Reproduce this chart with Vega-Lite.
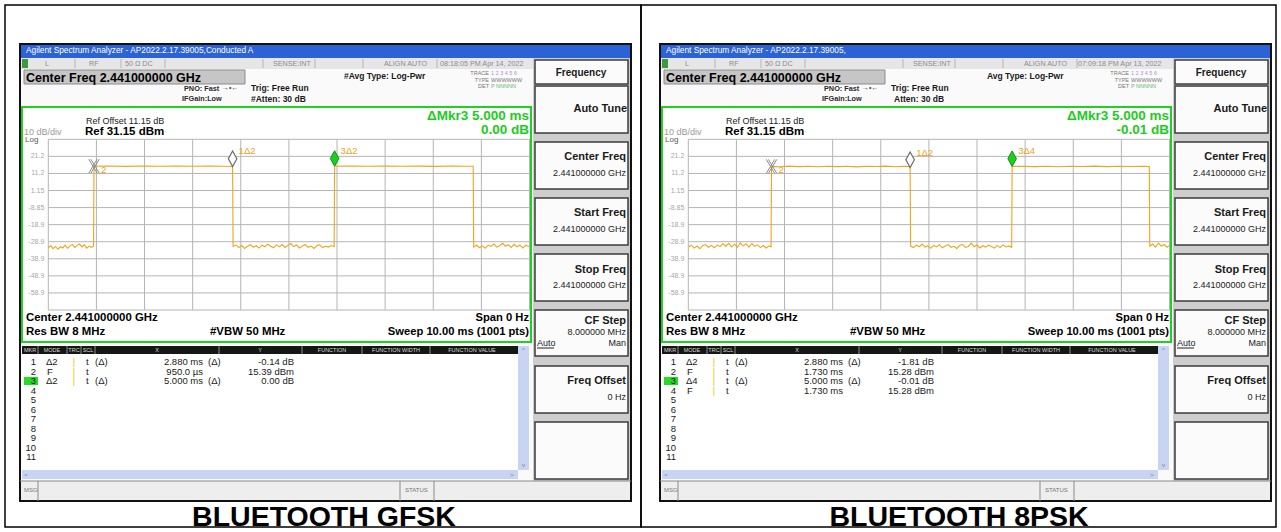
{
  "$schema": "https://vega.github.io/schema/vega-lite/v6.json",
  "padding": 0,
  "background": "#ffffff",
  "bounds": "flush",
  "spacing": 0,
  "data": {
    "values": [
      {"k": "rf", "p": ["a", "b"], "r": "scrbg", "x": 20, "x2": 631, "y": 44, "y2": 501},
      {"k": "rf", "p": ["a", "b"], "r": "titlebar", "x": 20, "x2": 631, "y": 44, "y2": 58},
      {"k": "rf", "p": ["a", "b"], "r": "statrow", "x": 20, "x2": 533, "y": 58, "y2": 69},
      {"k": "rf", "p": ["a", "b"], "r": "icon", "x": 22, "x2": 28, "y": 59, "y2": 68},
      {"k": "rf", "p": ["a", "b"], "r": "cfbox", "x": 24, "x2": 245, "y": 70, "y2": 84},
      {"k": "rf", "p": ["a", "b"], "r": "keycol", "x": 533, "x2": 631, "y": 58, "y2": 481},
      {"k": "rf", "p": ["a", "b"], "r": "key", "x": 535, "x2": 628, "y": 60, "y2": 84},
      {"k": "rf", "p": ["a", "b"], "r": "key", "x": 535, "x2": 628, "y": 86, "y2": 133},
      {"k": "rf", "p": ["a", "b"], "r": "key", "x": 535, "x2": 628, "y": 142, "y2": 189},
      {"k": "rf", "p": ["a", "b"], "r": "key", "x": 535, "x2": 628, "y": 198, "y2": 245},
      {"k": "rf", "p": ["a", "b"], "r": "key", "x": 535, "x2": 628, "y": 254, "y2": 301},
      {"k": "rf", "p": ["a", "b"], "r": "key", "x": 535, "x2": 628, "y": 310, "y2": 356},
      {"k": "rf", "p": ["a", "b"], "r": "key", "x": 535, "x2": 628, "y": 366, "y2": 413},
      {"k": "rf", "p": ["a", "b"], "r": "key", "x": 535, "x2": 628, "y": 422, "y2": 479},
      {"k": "rf", "p": ["a", "b"], "r": "white", "x": 22, "x2": 531, "y": 107, "y2": 342},
      {"k": "rf", "p": ["a", "b"], "r": "white", "x": 22, "x2": 518, "y": 345, "y2": 470},
      {"k": "rf", "p": ["a", "b"], "r": "tblhead", "x": 22, "x2": 518, "y": 346, "y2": 354},
      {"k": "rf", "p": ["a", "b"], "r": "scroll", "x": 518, "x2": 529, "y": 346, "y2": 470},
      {"k": "rf", "p": ["a", "b"], "r": "scroll", "x": 22, "x2": 518, "y": 470, "y2": 479},
      {"k": "rf", "p": ["a", "b"], "r": "statusbar", "x": 20, "x2": 631, "y": 481, "y2": 501},
      {"k": "rf", "p": ["a", "b"], "r": "hl", "x": 24, "x2": 38, "y": 377, "y2": 385},

      {"k": "ob", "p": ["a"], "r": "frame", "x": 5, "x2": 641, "y": 5, "y2": 527},
      {"k": "ob", "p": ["b"], "r": "frame", "x": 1, "x2": 636, "y": 5, "y2": 527},
      {"k": "ob", "p": ["a", "b"], "r": "scrframe", "x": 20, "x2": 631, "y": 44, "y2": 501},
      {"k": "ob", "p": ["a", "b"], "r": "green", "x": 22, "x2": 531, "y": 107, "y2": 342},
      {"k": "ob", "p": ["a", "b"], "r": "cfline", "x": 24, "x2": 245, "y": 70, "y2": 84},
      {"k": "ob", "p": ["a", "b"], "r": "keyline", "x": 535, "x2": 628, "y": 60, "y2": 84},
      {"k": "ob", "p": ["a", "b"], "r": "keyline", "x": 535, "x2": 628, "y": 86, "y2": 133},
      {"k": "ob", "p": ["a", "b"], "r": "keyline", "x": 535, "x2": 628, "y": 142, "y2": 189},
      {"k": "ob", "p": ["a", "b"], "r": "keyline", "x": 535, "x2": 628, "y": 198, "y2": 245},
      {"k": "ob", "p": ["a", "b"], "r": "keyline", "x": 535, "x2": 628, "y": 254, "y2": 301},
      {"k": "ob", "p": ["a", "b"], "r": "keyline", "x": 535, "x2": 628, "y": 310, "y2": 356},
      {"k": "ob", "p": ["a", "b"], "r": "keyline", "x": 535, "x2": 628, "y": 366, "y2": 413},
      {"k": "ob", "p": ["a", "b"], "r": "keyline", "x": 535, "x2": 628, "y": 422, "y2": 479},

      {"k": "ln", "p": ["a", "b"], "r": "wsep", "x": 38, "x2": 38, "y": 346, "y2": 354},
      {"k": "ln", "p": ["a", "b"], "r": "wsep", "x": 67, "x2": 67, "y": 346, "y2": 354},
      {"k": "ln", "p": ["a", "b"], "r": "wsep", "x": 81, "x2": 81, "y": 346, "y2": 354},
      {"k": "ln", "p": ["a", "b"], "r": "wsep", "x": 95, "x2": 95, "y": 346, "y2": 354},
      {"k": "ln", "p": ["a", "b"], "r": "wsep", "x": 219, "x2": 219, "y": 346, "y2": 354},
      {"k": "ln", "p": ["a", "b"], "r": "wsep", "x": 302, "x2": 302, "y": 346, "y2": 354},
      {"k": "ln", "p": ["a", "b"], "r": "wsep", "x": 362, "x2": 362, "y": 346, "y2": 354},
      {"k": "ln", "p": ["a", "b"], "r": "wsep", "x": 430, "x2": 430, "y": 346, "y2": 354},
      {"k": "ln", "p": ["a", "b"], "r": "sepl", "x": 75, "x2": 75, "y": 59, "y2": 68},
      {"k": "ln", "p": ["a", "b"], "r": "sepl", "x": 121, "x2": 121, "y": 59, "y2": 68},
      {"k": "ln", "p": ["a", "b"], "r": "sepl", "x": 165, "x2": 165, "y": 59, "y2": 68},
      {"k": "ln", "p": ["a", "b"], "r": "sepl", "x": 263, "x2": 263, "y": 59, "y2": 68},
      {"k": "ln", "p": ["a", "b"], "r": "sepl", "x": 315, "x2": 315, "y": 59, "y2": 68},
      {"k": "ln", "p": ["a", "b"], "r": "sepl", "x": 363, "x2": 363, "y": 59, "y2": 68},
      {"k": "ln", "p": ["a", "b"], "r": "sepl", "x": 437, "x2": 437, "y": 59, "y2": 68},
      {"k": "ln", "p": ["a", "b"], "r": "sep", "x": 20, "x2": 631, "y": 481, "y2": 481},
      {"k": "ln", "p": ["a", "b"], "r": "sep", "x": 38, "x2": 38, "y": 481, "y2": 501},
      {"k": "ln", "p": ["a", "b"], "r": "sep", "x": 400, "x2": 400, "y": 481, "y2": 501},
      {"k": "ln", "p": ["a", "b"], "r": "sep", "x": 434, "x2": 434, "y": 481, "y2": 501},
      {"k": "ln", "p": ["a", "b"], "r": "uline", "x": 537, "x2": 554, "y": 348, "y2": 348},

      {"k": "tx", "p": ["a"], "r": "title", "x": 26, "y": 51, "s": "Agilent Spectrum Analyzer - AP2022.2.17.39005,Conducted A"},
      {"k": "tx", "p": ["b"], "r": "title", "x": 26, "y": 51, "s": "Agilent Spectrum Analyzer - AP2022.2.17.39005,"},
      {"k": "tx", "p": ["a", "b"], "r": "stat", "x": 45, "y": 64, "s": "L"},
      {"k": "tx", "p": ["a", "b"], "r": "stat", "x": 89, "y": 64, "s": "RF"},
      {"k": "tx", "p": ["a", "b"], "r": "stat", "x": 125, "y": 64, "s": "50 Ω   DC"},
      {"k": "tx", "p": ["a", "b"], "r": "stat", "x": 273, "y": 64, "s": "SENSE:INT"},
      {"k": "tx", "p": ["a", "b"], "r": "stat", "x": 384, "y": 64, "s": "ALIGN AUTO"},
      {"k": "tx", "p": ["a"], "r": "stat", "x": 440, "y": 64, "s": "08:18:05 PM Apr 14, 2022"},
      {"k": "tx", "p": ["b"], "r": "stat", "x": 438, "y": 64, "s": "07:09:18 PM Apr 13, 2022"},
      {"k": "tx", "p": ["a", "b"], "r": "cf", "x": 26, "y": 77.5, "s": "Center Freq 2.441000000 GHz"},
      {"k": "tx", "p": ["a", "b"], "r": "hdrs", "x": 184, "y": 88.5, "s": "PNO: Fast"},
      {"k": "tx", "p": ["a", "b"], "r": "arrow", "x": 222, "y": 88, "s": "→•←"},
      {"k": "tx", "p": ["a", "b"], "r": "hdrs", "x": 182, "y": 98.5, "s": "IFGain:Low"},
      {"k": "tx", "p": ["a", "b"], "r": "hdr", "x": 251, "y": 87.5, "s": "Trig: Free Run"},
      {"k": "tx", "p": ["a"], "r": "hdr", "x": 251, "y": 98.5, "s": "#Atten: 30 dB"},
      {"k": "tx", "p": ["b"], "r": "hdr", "x": 254, "y": 98.5, "s": "Atten: 30 dB"},
      {"k": "tx", "p": ["a"], "r": "hdr", "x": 344, "y": 75.5, "s": "#Avg Type: Log-Pwr"},
      {"k": "tx", "p": ["b"], "r": "hdr", "x": 347, "y": 75.5, "s": "Avg Type: Log-Pwr"},
      {"k": "tx", "p": ["a", "b"], "r": "tiny", "x": 489, "y": 73, "s": "TRACE"},
      {"k": "tx", "p": ["a", "b"], "r": "tiny", "x": 489, "y": 79.5, "s": "TYPE"},
      {"k": "tx", "p": ["a", "b"], "r": "tiny", "x": 489, "y": 86, "s": "DET"},
      {"k": "tx", "p": ["a", "b"], "r": "trc", "x": 491, "y": 73, "s": "1 2 3 4 5 6"},
      {"k": "tx", "p": ["a", "b"], "r": "tinyL", "x": 491, "y": 79.5, "s": "WWWWWW"},
      {"k": "tx", "p": ["a", "b"], "r": "det", "x": 491, "y": 86, "s": "P NNNNN"},
      {"k": "tx", "p": ["a", "b"], "r": "ref", "x": 86, "y": 120.5, "s": "Ref Offset 11.15 dB"},
      {"k": "tx", "p": ["a", "b"], "r": "refbig", "x": 85, "y": 131.5, "s": "Ref 31.15 dBm"},
      {"k": "tx", "p": ["a", "b"], "r": "div", "x": 24, "y": 131.5, "s": "10 dB/div"},
      {"k": "tx", "p": ["a", "b"], "r": "log", "x": 25, "y": 140, "s": "Log"},
      {"k": "tx", "p": ["a", "b"], "r": "mkr", "x": 529, "y": 116, "s": "ΔMkr3 5.000 ms"},
      {"k": "tx", "p": ["a"], "r": "mkr", "x": 529, "y": 129.5, "s": "0.00 dB"},
      {"k": "tx", "p": ["b"], "r": "mkr", "x": 529, "y": 129.5, "s": "-0.01 dB"},
      {"k": "tx", "p": ["a", "b"], "r": "foot", "x": 26, "y": 318, "s": "Center 2.441000000 GHz"},
      {"k": "tx", "p": ["a", "b"], "r": "foot", "x": 26, "y": 332, "s": "Res BW 8 MHz"},
      {"k": "tx", "p": ["a", "b"], "r": "foot", "x": 210, "y": 332, "s": "#VBW 50 MHz"},
      {"k": "tx", "p": ["a", "b"], "r": "footR", "x": 529, "y": 318, "s": "Span 0 Hz"},
      {"k": "tx", "p": ["a", "b"], "r": "footR", "x": 529, "y": 332, "s": "Sweep  10.00 ms (1001 pts)"},
      {"k": "tx", "p": ["a", "b"], "r": "keyc", "x": 581, "y": 72.5, "s": "Frequency"},
      {"k": "tx", "p": ["a", "b"], "r": "keyT", "x": 627, "y": 109, "s": "Auto Tune"},
      {"k": "tx", "p": ["a", "b"], "r": "keyT", "x": 626, "y": 157, "s": "Center Freq"},
      {"k": "tx", "p": ["a", "b"], "r": "keyT", "x": 626, "y": 213, "s": "Start Freq"},
      {"k": "tx", "p": ["a", "b"], "r": "keyT", "x": 626, "y": 269.5, "s": "Stop Freq"},
      {"k": "tx", "p": ["a", "b"], "r": "keyT", "x": 626, "y": 321, "s": "CF Step"},
      {"k": "tx", "p": ["a", "b"], "r": "keyT", "x": 626, "y": 381, "s": "Freq Offset"},
      {"k": "tx", "p": ["a", "b"], "r": "keysub", "x": 626, "y": 173, "s": "2.441000000 GHz"},
      {"k": "tx", "p": ["a", "b"], "r": "keysub", "x": 626, "y": 229, "s": "2.441000000 GHz"},
      {"k": "tx", "p": ["a", "b"], "r": "keysub", "x": 626, "y": 285, "s": "2.441000000 GHz"},
      {"k": "tx", "p": ["a", "b"], "r": "keysub", "x": 626, "y": 332, "s": "8.000000 MHz"},
      {"k": "tx", "p": ["a", "b"], "r": "keysub", "x": 626, "y": 343, "s": "Man"},
      {"k": "tx", "p": ["a", "b"], "r": "keysub", "x": 626, "y": 397, "s": "0 Hz"},
      {"k": "tx", "p": ["a", "b"], "r": "auto", "x": 537, "y": 343, "s": "Auto"},
      {"k": "tx", "p": ["a", "b"], "r": "tblh", "x": 30, "y": 350, "s": "MKR"},
      {"k": "tx", "p": ["a", "b"], "r": "tblh", "x": 52, "y": 350, "s": "MODE"},
      {"k": "tx", "p": ["a", "b"], "r": "tblh", "x": 74, "y": 350, "s": "TRC"},
      {"k": "tx", "p": ["a", "b"], "r": "tblh", "x": 88, "y": 350, "s": "SCL"},
      {"k": "tx", "p": ["a", "b"], "r": "tblh", "x": 157, "y": 350, "s": "X"},
      {"k": "tx", "p": ["a", "b"], "r": "tblh", "x": 260, "y": 350, "s": "Y"},
      {"k": "tx", "p": ["a", "b"], "r": "tblh", "x": 332, "y": 350, "s": "FUNCTION"},
      {"k": "tx", "p": ["a", "b"], "r": "tblh", "x": 396, "y": 350, "s": "FUNCTION WIDTH"},
      {"k": "tx", "p": ["a", "b"], "r": "tblh", "x": 472, "y": 350, "s": "FUNCTION VALUE"},
      {"k": "tx", "p": ["a", "b"], "r": "scrarrow", "x": 523.5, "y": 350, "s": "^"},
      {"k": "tx", "p": ["a", "b"], "r": "scrarrow", "x": 523.5, "y": 465, "s": "v"},
      {"k": "tx", "p": ["a", "b"], "r": "scrarrow", "x": 26, "y": 474.5, "s": "<"},
      {"k": "tx", "p": ["a", "b"], "r": "scrarrow", "x": 512, "y": 474.5, "s": ">"},
      {"k": "tx", "p": ["a", "b"], "r": "tblR", "x": 36, "y": 362, "s": "1"},
      {"k": "tx", "p": ["a", "b"], "r": "tblR", "x": 36, "y": 371.5, "s": "2"},
      {"k": "tx", "p": ["a", "b"], "r": "tblR", "x": 36, "y": 381, "s": "3"},
      {"k": "tx", "p": ["a", "b"], "r": "tblR", "x": 36, "y": 390.5, "s": "4"},
      {"k": "tx", "p": ["a", "b"], "r": "tblR", "x": 36, "y": 400, "s": "5"},
      {"k": "tx", "p": ["a", "b"], "r": "tblR", "x": 36, "y": 409.5, "s": "6"},
      {"k": "tx", "p": ["a", "b"], "r": "tblR", "x": 36, "y": 419, "s": "7"},
      {"k": "tx", "p": ["a", "b"], "r": "tblR", "x": 36, "y": 428.5, "s": "8"},
      {"k": "tx", "p": ["a", "b"], "r": "tblR", "x": 36, "y": 438, "s": "9"},
      {"k": "tx", "p": ["a", "b"], "r": "tblR", "x": 36, "y": 447.5, "s": "10"},
      {"k": "tx", "p": ["a", "b"], "r": "tblR", "x": 36, "y": 457, "s": "11"},
      {"k": "tx", "p": ["a", "b"], "r": "tblL", "x": 46, "y": 362, "s": "Δ2"},
      {"k": "tx", "p": ["a", "b"], "r": "tblL", "x": 47, "y": 371.5, "s": "F"},
      {"k": "tx", "p": ["a"], "r": "tblL", "x": 46, "y": 381, "s": "Δ2"},
      {"k": "tx", "p": ["b"], "r": "tblL", "x": 46, "y": 381, "s": "Δ4"},
      {"k": "tx", "p": ["b"], "r": "tblL", "x": 47, "y": 390.5, "s": "F"},
      {"k": "tx", "p": ["a", "b"], "r": "tick", "x": 74, "y": 362, "s": "|"},
      {"k": "tx", "p": ["a", "b"], "r": "tick", "x": 74, "y": 371.5, "s": "|"},
      {"k": "tx", "p": ["a", "b"], "r": "tick", "x": 74, "y": 381, "s": "|"},
      {"k": "tx", "p": ["b"], "r": "tick", "x": 74, "y": 390.5, "s": "|"},
      {"k": "tx", "p": ["a", "b"], "r": "tblL", "x": 86, "y": 362, "s": "t"},
      {"k": "tx", "p": ["a", "b"], "r": "tblL", "x": 86, "y": 371.5, "s": "t"},
      {"k": "tx", "p": ["a", "b"], "r": "tblL", "x": 86, "y": 381, "s": "t"},
      {"k": "tx", "p": ["b"], "r": "tblL", "x": 86, "y": 390.5, "s": "t"},
      {"k": "tx", "p": ["a", "b"], "r": "tblL", "x": 95, "y": 362, "s": "(Δ)"},
      {"k": "tx", "p": ["a", "b"], "r": "tblL", "x": 95, "y": 381, "s": "(Δ)"},
      {"k": "tx", "p": ["a", "b"], "r": "tblL", "x": 208, "y": 362, "s": "(Δ)"},
      {"k": "tx", "p": ["a", "b"], "r": "tblL", "x": 208, "y": 381, "s": "(Δ)"},
      {"k": "tx", "p": ["a", "b"], "r": "tblR", "x": 203, "y": 362, "s": "2.880 ms"},
      {"k": "tx", "p": ["a"], "r": "tblR", "x": 203, "y": 371.5, "s": "950.0 µs"},
      {"k": "tx", "p": ["b"], "r": "tblR", "x": 203, "y": 371.5, "s": "1.730 ms"},
      {"k": "tx", "p": ["a", "b"], "r": "tblR", "x": 203, "y": 381, "s": "5.000 ms"},
      {"k": "tx", "p": ["b"], "r": "tblR", "x": 203, "y": 390.5, "s": "1.730 ms"},
      {"k": "tx", "p": ["a"], "r": "tblR", "x": 294, "y": 362, "s": "-0.14 dB"},
      {"k": "tx", "p": ["a"], "r": "tblR", "x": 294, "y": 371.5, "s": "15.39 dBm"},
      {"k": "tx", "p": ["a"], "r": "tblR", "x": 294, "y": 381, "s": "0.00 dB"},
      {"k": "tx", "p": ["b"], "r": "tblR", "x": 294, "y": 362, "s": "-1.81 dB"},
      {"k": "tx", "p": ["b"], "r": "tblR", "x": 294, "y": 371.5, "s": "15.28 dBm"},
      {"k": "tx", "p": ["b"], "r": "tblR", "x": 294, "y": 381, "s": "-0.01 dB"},
      {"k": "tx", "p": ["b"], "r": "tblR", "x": 294, "y": 390.5, "s": "15.28 dBm"},
      {"k": "tx", "p": ["a", "b"], "r": "msg", "x": 24, "y": 490, "s": "MSG"},
      {"k": "tx", "p": ["a", "b"], "r": "msg", "x": 405, "y": 490, "s": "STATUS"},
      {"k": "tx", "p": ["a"], "r": "cap", "x": 324, "y": 517, "s": "BLUETOOTH GFSK"},
      {"k": "tx", "p": ["b"], "r": "cap", "x": 319, "y": 517, "s": "BLUETOOTH 8PSK"},

      {"k": "gx", "p": ["a", "b"], "t": 0}, {"k": "gx", "p": ["a", "b"], "t": 1},
      {"k": "gx", "p": ["a", "b"], "t": 2}, {"k": "gx", "p": ["a", "b"], "t": 3},
      {"k": "gx", "p": ["a", "b"], "t": 4}, {"k": "gx", "p": ["a", "b"], "t": 5},
      {"k": "gx", "p": ["a", "b"], "t": 6}, {"k": "gx", "p": ["a", "b"], "t": 7},
      {"k": "gx", "p": ["a", "b"], "t": 8}, {"k": "gx", "p": ["a", "b"], "t": 9},
      {"k": "gx", "p": ["a", "b"], "t": 10},
      {"k": "gy", "p": ["a", "b"], "v": 31.15, "lab": ""},
      {"k": "gy", "p": ["a", "b"], "v": 21.15, "lab": "21.2"},
      {"k": "gy", "p": ["a", "b"], "v": 11.15, "lab": "11.2"},
      {"k": "gy", "p": ["a", "b"], "v": 1.15, "lab": "1.15"},
      {"k": "gy", "p": ["a", "b"], "v": -8.85, "lab": "-8.85"},
      {"k": "gy", "p": ["a", "b"], "v": -18.85, "lab": "-18.9"},
      {"k": "gy", "p": ["a", "b"], "v": -28.85, "lab": "-28.9"},
      {"k": "gy", "p": ["a", "b"], "v": -38.85, "lab": "-38.9"},
      {"k": "gy", "p": ["a", "b"], "v": -48.85, "lab": "-48.9"},
      {"k": "gy", "p": ["a", "b"], "v": -58.85, "lab": "-58.9"},
      {"k": "gy", "p": ["a", "b"], "v": -68.85, "lab": ""},

      {"k": "mk", "p": ["a"], "t": 0.95, "d": 15.39, "mt": "ref", "lab": "2"},
      {"k": "mk", "p": ["a"], "t": 3.83, "d": 15.25, "mt": "dia", "lab": "1Δ2"},
      {"k": "mk", "p": ["a"], "t": 5.95, "d": 15.39, "mt": "act", "lab": "3Δ2"},
      {"k": "mk", "p": ["b"], "t": 1.73, "d": 15.28, "mt": "ref", "lab": "2"},
      {"k": "mk", "p": ["b"], "t": 4.61, "d": 14.6, "mt": "dia", "lab": "1Δ2"},
      {"k": "mk", "p": ["b"], "t": 6.73, "d": 15.27, "mt": "act", "lab": "3Δ4"},

      {"k": "tr", "p": ["a"], "t": 0.00, "d": -32.4}, {"k": "tr", "p": ["a"], "t": 0.05, "d": -31.1},
      {"k": "tr", "p": ["a"], "t": 0.10, "d": -32.9}, {"k": "tr", "p": ["a"], "t": 0.15, "d": -31.6},
      {"k": "tr", "p": ["a"], "t": 0.20, "d": -33.2}, {"k": "tr", "p": ["a"], "t": 0.25, "d": -31.8},
      {"k": "tr", "p": ["a"], "t": 0.30, "d": -32.5}, {"k": "tr", "p": ["a"], "t": 0.35, "d": -30.9},
      {"k": "tr", "p": ["a"], "t": 0.40, "d": -32.7}, {"k": "tr", "p": ["a"], "t": 0.45, "d": -31.3},
      {"k": "tr", "p": ["a"], "t": 0.50, "d": -30.4}, {"k": "tr", "p": ["a"], "t": 0.55, "d": -32.2},
      {"k": "tr", "p": ["a"], "t": 0.60, "d": -31.0}, {"k": "tr", "p": ["a"], "t": 0.65, "d": -30.2},
      {"k": "tr", "p": ["a"], "t": 0.70, "d": -31.9}, {"k": "tr", "p": ["a"], "t": 0.75, "d": -30.7},
      {"k": "tr", "p": ["a"], "t": 0.80, "d": -32.6}, {"k": "tr", "p": ["a"], "t": 0.85, "d": -31.4},
      {"k": "tr", "p": ["a"], "t": 0.90, "d": -32.1}, {"k": "tr", "p": ["a"], "t": 0.94, "d": -31.5},
      {"k": "tr", "p": ["a"], "t": 0.95, "d": 15.39}, {"k": "tr", "p": ["a"], "t": 1.25, "d": 15.55},
      {"k": "tr", "p": ["a"], "t": 1.60, "d": 15.30}, {"k": "tr", "p": ["a"], "t": 1.95, "d": 15.48},
      {"k": "tr", "p": ["a"], "t": 2.30, "d": 15.35}, {"k": "tr", "p": ["a"], "t": 2.65, "d": 15.52},
      {"k": "tr", "p": ["a"], "t": 3.00, "d": 15.32}, {"k": "tr", "p": ["a"], "t": 3.35, "d": 15.46},
      {"k": "tr", "p": ["a"], "t": 3.65, "d": 15.38}, {"k": "tr", "p": ["a"], "t": 3.83, "d": 15.25},
      {"k": "tr", "p": ["a"], "t": 3.84, "d": -31.6}, {"k": "tr", "p": ["a"], "t": 3.90, "d": -30.8},
      {"k": "tr", "p": ["a"], "t": 3.96, "d": -32.3}, {"k": "tr", "p": ["a"], "t": 4.02, "d": -31.1},
      {"k": "tr", "p": ["a"], "t": 4.08, "d": -32.8}, {"k": "tr", "p": ["a"], "t": 4.14, "d": -31.5},
      {"k": "tr", "p": ["a"], "t": 4.20, "d": -30.6}, {"k": "tr", "p": ["a"], "t": 4.26, "d": -32.0},
      {"k": "tr", "p": ["a"], "t": 4.32, "d": -31.2}, {"k": "tr", "p": ["a"], "t": 4.38, "d": -32.6},
      {"k": "tr", "p": ["a"], "t": 4.44, "d": -30.9}, {"k": "tr", "p": ["a"], "t": 4.50, "d": -31.8},
      {"k": "tr", "p": ["a"], "t": 4.56, "d": -30.3}, {"k": "tr", "p": ["a"], "t": 4.62, "d": -31.5},
      {"k": "tr", "p": ["a"], "t": 4.68, "d": -32.4}, {"k": "tr", "p": ["a"], "t": 4.74, "d": -30.7},
      {"k": "tr", "p": ["a"], "t": 4.80, "d": -31.9}, {"k": "tr", "p": ["a"], "t": 4.86, "d": -30.5},
      {"k": "tr", "p": ["a"], "t": 4.92, "d": -32.2}, {"k": "tr", "p": ["a"], "t": 4.98, "d": -31.0},
      {"k": "tr", "p": ["a"], "t": 5.04, "d": -29.9}, {"k": "tr", "p": ["a"], "t": 5.10, "d": -31.7},
      {"k": "tr", "p": ["a"], "t": 5.16, "d": -30.8}, {"k": "tr", "p": ["a"], "t": 5.22, "d": -32.5},
      {"k": "tr", "p": ["a"], "t": 5.28, "d": -31.3}, {"k": "tr", "p": ["a"], "t": 5.34, "d": -30.6},
      {"k": "tr", "p": ["a"], "t": 5.40, "d": -32.1}, {"k": "tr", "p": ["a"], "t": 5.46, "d": -31.4},
      {"k": "tr", "p": ["a"], "t": 5.52, "d": -32.8}, {"k": "tr", "p": ["a"], "t": 5.58, "d": -31.2},
      {"k": "tr", "p": ["a"], "t": 5.64, "d": -30.7}, {"k": "tr", "p": ["a"], "t": 5.70, "d": -32.3},
      {"k": "tr", "p": ["a"], "t": 5.76, "d": -31.5}, {"k": "tr", "p": ["a"], "t": 5.82, "d": -32.0},
      {"k": "tr", "p": ["a"], "t": 5.88, "d": -31.1}, {"k": "tr", "p": ["a"], "t": 5.94, "d": -31.8},
      {"k": "tr", "p": ["a"], "t": 5.95, "d": 15.39}, {"k": "tr", "p": ["a"], "t": 6.30, "d": 15.47},
      {"k": "tr", "p": ["a"], "t": 6.65, "d": 15.33}, {"k": "tr", "p": ["a"], "t": 7.00, "d": 15.50},
      {"k": "tr", "p": ["a"], "t": 7.35, "d": 15.36}, {"k": "tr", "p": ["a"], "t": 7.70, "d": 15.44},
      {"k": "tr", "p": ["a"], "t": 8.05, "d": 15.31}, {"k": "tr", "p": ["a"], "t": 8.40, "d": 15.49},
      {"k": "tr", "p": ["a"], "t": 8.70, "d": 15.37}, {"k": "tr", "p": ["a"], "t": 8.83, "d": 15.34},
      {"k": "tr", "p": ["a"], "t": 8.84, "d": -31.9}, {"k": "tr", "p": ["a"], "t": 8.90, "d": -30.9},
      {"k": "tr", "p": ["a"], "t": 8.96, "d": -32.4}, {"k": "tr", "p": ["a"], "t": 9.02, "d": -31.3},
      {"k": "tr", "p": ["a"], "t": 9.08, "d": -32.7}, {"k": "tr", "p": ["a"], "t": 9.14, "d": -30.8},
      {"k": "tr", "p": ["a"], "t": 9.20, "d": -31.6}, {"k": "tr", "p": ["a"], "t": 9.26, "d": -30.2},
      {"k": "tr", "p": ["a"], "t": 9.32, "d": -32.0}, {"k": "tr", "p": ["a"], "t": 9.38, "d": -31.2},
      {"k": "tr", "p": ["a"], "t": 9.44, "d": -29.8}, {"k": "tr", "p": ["a"], "t": 9.50, "d": -31.5},
      {"k": "tr", "p": ["a"], "t": 9.56, "d": -30.6}, {"k": "tr", "p": ["a"], "t": 9.62, "d": -32.2},
      {"k": "tr", "p": ["a"], "t": 9.68, "d": -30.4}, {"k": "tr", "p": ["a"], "t": 9.74, "d": -31.8},
      {"k": "tr", "p": ["a"], "t": 9.80, "d": -30.9}, {"k": "tr", "p": ["a"], "t": 9.86, "d": -32.5},
      {"k": "tr", "p": ["a"], "t": 9.92, "d": -31.0}, {"k": "tr", "p": ["a"], "t": 10.00, "d": -31.7},

      {"k": "tr", "p": ["b"], "t": 0.00, "d": -32.0}, {"k": "tr", "p": ["b"], "t": 0.06, "d": -30.9},
      {"k": "tr", "p": ["b"], "t": 0.12, "d": -32.6}, {"k": "tr", "p": ["b"], "t": 0.18, "d": -31.4},
      {"k": "tr", "p": ["b"], "t": 0.24, "d": -32.9}, {"k": "tr", "p": ["b"], "t": 0.30, "d": -31.2},
      {"k": "tr", "p": ["b"], "t": 0.36, "d": -30.5}, {"k": "tr", "p": ["b"], "t": 0.42, "d": -32.1},
      {"k": "tr", "p": ["b"], "t": 0.48, "d": -31.0}, {"k": "tr", "p": ["b"], "t": 0.54, "d": -32.4},
      {"k": "tr", "p": ["b"], "t": 0.60, "d": -30.8}, {"k": "tr", "p": ["b"], "t": 0.66, "d": -31.7},
      {"k": "tr", "p": ["b"], "t": 0.72, "d": -30.1}, {"k": "tr", "p": ["b"], "t": 0.78, "d": -31.5},
      {"k": "tr", "p": ["b"], "t": 0.84, "d": -29.8}, {"k": "tr", "p": ["b"], "t": 0.90, "d": -31.9},
      {"k": "tr", "p": ["b"], "t": 0.96, "d": -30.3}, {"k": "tr", "p": ["b"], "t": 1.02, "d": -32.2},
      {"k": "tr", "p": ["b"], "t": 1.08, "d": -29.6}, {"k": "tr", "p": ["b"], "t": 1.14, "d": -31.4},
      {"k": "tr", "p": ["b"], "t": 1.20, "d": -30.0}, {"k": "tr", "p": ["b"], "t": 1.26, "d": -32.0},
      {"k": "tr", "p": ["b"], "t": 1.32, "d": -29.9}, {"k": "tr", "p": ["b"], "t": 1.38, "d": -31.6},
      {"k": "tr", "p": ["b"], "t": 1.44, "d": -30.7}, {"k": "tr", "p": ["b"], "t": 1.50, "d": -32.3},
      {"k": "tr", "p": ["b"], "t": 1.56, "d": -31.1}, {"k": "tr", "p": ["b"], "t": 1.62, "d": -32.5},
      {"k": "tr", "p": ["b"], "t": 1.68, "d": -31.3}, {"k": "tr", "p": ["b"], "t": 1.72, "d": -31.8},
      {"k": "tr", "p": ["b"], "t": 1.73, "d": 15.28}, {"k": "tr", "p": ["b"], "t": 1.90, "d": 15.05},
      {"k": "tr", "p": ["b"], "t": 2.10, "d": 15.42}, {"k": "tr", "p": ["b"], "t": 2.30, "d": 15.12},
      {"k": "tr", "p": ["b"], "t": 2.50, "d": 15.36}, {"k": "tr", "p": ["b"], "t": 2.70, "d": 15.08},
      {"k": "tr", "p": ["b"], "t": 2.90, "d": 15.40}, {"k": "tr", "p": ["b"], "t": 3.10, "d": 15.15},
      {"k": "tr", "p": ["b"], "t": 3.30, "d": 15.33}, {"k": "tr", "p": ["b"], "t": 3.50, "d": 15.02},
      {"k": "tr", "p": ["b"], "t": 3.70, "d": 15.38}, {"k": "tr", "p": ["b"], "t": 3.90, "d": 15.18},
      {"k": "tr", "p": ["b"], "t": 4.10, "d": 15.41}, {"k": "tr", "p": ["b"], "t": 4.30, "d": 15.10},
      {"k": "tr", "p": ["b"], "t": 4.50, "d": 15.30}, {"k": "tr", "p": ["b"], "t": 4.60, "d": 15.20},
      {"k": "tr", "p": ["b"], "t": 4.61, "d": 13.47},
      {"k": "tr", "p": ["b"], "t": 4.62, "d": -31.4}, {"k": "tr", "p": ["b"], "t": 4.68, "d": -32.3},
      {"k": "tr", "p": ["b"], "t": 4.74, "d": -30.9}, {"k": "tr", "p": ["b"], "t": 4.80, "d": -31.8},
      {"k": "tr", "p": ["b"], "t": 4.86, "d": -30.2}, {"k": "tr", "p": ["b"], "t": 4.92, "d": -32.0},
      {"k": "tr", "p": ["b"], "t": 4.98, "d": -31.2}, {"k": "tr", "p": ["b"], "t": 5.04, "d": -32.7},
      {"k": "tr", "p": ["b"], "t": 5.10, "d": -31.0}, {"k": "tr", "p": ["b"], "t": 5.16, "d": -31.9},
      {"k": "tr", "p": ["b"], "t": 5.22, "d": -30.6}, {"k": "tr", "p": ["b"], "t": 5.28, "d": -32.4},
      {"k": "tr", "p": ["b"], "t": 5.34, "d": -31.3}, {"k": "tr", "p": ["b"], "t": 5.40, "d": -30.5},
      {"k": "tr", "p": ["b"], "t": 5.46, "d": -32.1}, {"k": "tr", "p": ["b"], "t": 5.52, "d": -31.5},
      {"k": "tr", "p": ["b"], "t": 5.58, "d": -32.8}, {"k": "tr", "p": ["b"], "t": 5.64, "d": -31.1},
      {"k": "tr", "p": ["b"], "t": 5.70, "d": -30.4}, {"k": "tr", "p": ["b"], "t": 5.76, "d": -32.2},
      {"k": "tr", "p": ["b"], "t": 5.82, "d": -31.6}, {"k": "tr", "p": ["b"], "t": 5.88, "d": -29.7},
      {"k": "tr", "p": ["b"], "t": 5.94, "d": -31.8}, {"k": "tr", "p": ["b"], "t": 6.00, "d": -30.8},
      {"k": "tr", "p": ["b"], "t": 6.06, "d": -32.5}, {"k": "tr", "p": ["b"], "t": 6.12, "d": -31.2},
      {"k": "tr", "p": ["b"], "t": 6.18, "d": -32.0}, {"k": "tr", "p": ["b"], "t": 6.24, "d": -30.9},
      {"k": "tr", "p": ["b"], "t": 6.30, "d": -31.7}, {"k": "tr", "p": ["b"], "t": 6.36, "d": -32.6},
      {"k": "tr", "p": ["b"], "t": 6.42, "d": -31.0}, {"k": "tr", "p": ["b"], "t": 6.48, "d": -32.3},
      {"k": "tr", "p": ["b"], "t": 6.54, "d": -30.7}, {"k": "tr", "p": ["b"], "t": 6.60, "d": -31.9},
      {"k": "tr", "p": ["b"], "t": 6.66, "d": -31.3}, {"k": "tr", "p": ["b"], "t": 6.72, "d": -32.1},
      {"k": "tr", "p": ["b"], "t": 6.73, "d": 15.27}, {"k": "tr", "p": ["b"], "t": 6.95, "d": 15.40},
      {"k": "tr", "p": ["b"], "t": 7.20, "d": 15.15}, {"k": "tr", "p": ["b"], "t": 7.45, "d": 15.35},
      {"k": "tr", "p": ["b"], "t": 7.70, "d": 15.10}, {"k": "tr", "p": ["b"], "t": 7.95, "d": 15.38},
      {"k": "tr", "p": ["b"], "t": 8.20, "d": 15.18}, {"k": "tr", "p": ["b"], "t": 8.45, "d": 15.42},
      {"k": "tr", "p": ["b"], "t": 8.70, "d": 15.12}, {"k": "tr", "p": ["b"], "t": 8.95, "d": 15.33},
      {"k": "tr", "p": ["b"], "t": 9.20, "d": 15.20}, {"k": "tr", "p": ["b"], "t": 9.45, "d": 15.36},
      {"k": "tr", "p": ["b"], "t": 9.58, "d": 15.22},
      {"k": "tr", "p": ["b"], "t": 9.59, "d": -31.5}, {"k": "tr", "p": ["b"], "t": 9.65, "d": -30.2},
      {"k": "tr", "p": ["b"], "t": 9.71, "d": -32.0}, {"k": "tr", "p": ["b"], "t": 9.77, "d": -29.6},
      {"k": "tr", "p": ["b"], "t": 9.83, "d": -31.4}, {"k": "tr", "p": ["b"], "t": 9.89, "d": -30.5},
      {"k": "tr", "p": ["b"], "t": 9.95, "d": -32.1}, {"k": "tr", "p": ["b"], "t": 10.00, "d": -31.0}
    ]
  },
  "transform": [{"flatten": ["p"]}],
  "facet": {"column": {"field": "p", "type": "nominal", "header": null}},
  "spec": {
    "width": 640,
    "height": 532,
    "layer": [
      {
        "layer": [
          {
            "transform": [{"filter": "datum.k === 'rf'"}],
            "mark": {"type": "rect"},
            "encoding": {
              "x": {"field": "x", "type": "quantitative", "scale": {"domain": [0, 640], "range": [0, 640]}, "axis": null},
              "x2": {"field": "x2"},
              "y": {"field": "y", "type": "quantitative", "scale": {"domain": [0, 532], "range": [0, 532]}, "axis": null},
              "y2": {"field": "y2"},
              "color": {"field": "r", "type": "nominal", "legend": null, "scale": {
                "domain": ["scrbg", "titlebar", "statrow", "icon", "cfbox", "keycol", "key", "white", "tblhead", "scroll", "statusbar", "hl"],
                "range": ["#fafafa", "#2b63d6", "#e6e6e6", "#3f9a3f", "#c6c6c6", "#cdcdcd", "#fbfbfb", "#ffffff", "#161616", "#c7d4f2", "#eeeeee", "#22dd22"]}}
            }
          },
          {
            "transform": [{"filter": "datum.k === 'ob' && (datum.r === 'scrframe' || datum.r === 'green')"}],
            "mark": {"type": "rect", "filled": false, "strokeWidth": 2},
            "encoding": {
              "x": {"field": "x", "type": "quantitative", "scale": {"domain": [0, 640], "range": [0, 640]}, "axis": null},
              "x2": {"field": "x2"},
              "y": {"field": "y", "type": "quantitative", "scale": {"domain": [0, 532], "range": [0, 532]}, "axis": null},
              "y2": {"field": "y2"},
              "color": {"field": "r", "type": "nominal", "legend": null, "scale": {"domain": ["scrframe", "green"], "range": ["#111111", "#1fd21f"]}}
            }
          },
          {
            "transform": [{"filter": "datum.k === 'ob' && (datum.r === 'frame' || datum.r === 'keyline')"}],
            "mark": {"type": "rect", "filled": false, "strokeWidth": 1.5},
            "encoding": {
              "x": {"field": "x", "type": "quantitative", "scale": {"domain": [0, 640], "range": [0, 640]}, "axis": null},
              "x2": {"field": "x2"},
              "y": {"field": "y", "type": "quantitative", "scale": {"domain": [0, 532], "range": [0, 532]}, "axis": null},
              "y2": {"field": "y2"},
              "color": {"field": "r", "type": "nominal", "legend": null, "scale": {"domain": ["frame", "keyline"], "range": ["#000000", "#3c3c3c"]}}
            }
          },
          {
            "transform": [{"filter": "datum.k === 'ob' && datum.r === 'cfline'"}],
            "mark": {"type": "rect", "filled": false, "strokeWidth": 1, "stroke": "#8c8c8c"},
            "encoding": {
              "x": {"field": "x", "type": "quantitative", "scale": {"domain": [0, 640], "range": [0, 640]}, "axis": null},
              "x2": {"field": "x2"},
              "y": {"field": "y", "type": "quantitative", "scale": {"domain": [0, 532], "range": [0, 532]}, "axis": null},
              "y2": {"field": "y2"}
            }
          },
          {
            "transform": [{"filter": "datum.k === 'ln'"}],
            "mark": {"type": "rule", "strokeWidth": 1},
            "encoding": {
              "x": {"field": "x", "type": "quantitative", "scale": {"domain": [0, 640], "range": [0, 640]}, "axis": null},
              "x2": {"field": "x2"},
              "y": {"field": "y", "type": "quantitative", "scale": {"domain": [0, 532], "range": [0, 532]}, "axis": null},
              "y2": {"field": "y2"},
              "color": {"field": "r", "type": "nominal", "legend": null, "scale": {"domain": ["wsep", "sepl", "sep", "uline"], "range": ["#8c8c8c", "#b5b5b5", "#8a8a8a", "#222222"]}}
            }
          },
          {
            "transform": [{"filter": "datum.k === 'tx'"}, {"filter": {"field": "r", "oneOf": ["title", "stat", "arrow", "tinyL", "trc", "det", "ref", "div", "log", "auto", "tblL", "msg"]}}],
            "mark": {"type": "text", "align": "left", "baseline": "middle", "font": "Liberation Sans"},
            "encoding": {
              "x": {"field": "x", "type": "quantitative", "scale": {"domain": [0, 640], "range": [0, 640]}, "axis": null},
              "y": {"field": "y", "type": "quantitative", "scale": {"domain": [0, 532], "range": [0, 532]}, "axis": null},
              "text": {"field": "s"},
              "color": {"field": "r", "type": "nominal", "legend": null, "scale": {
                "domain": ["title", "stat", "arrow", "tinyL", "trc", "det", "ref", "div", "log", "auto", "tblL", "msg"],
                "range": ["#ffffff", "#8c8c8c", "#444444", "#777777", "#b98ad0", "#6fb56f", "#1a1a1a", "#9a9a9a", "#555555", "#1a1a1a", "#1a1a1a", "#777777"]}},
              "size": {"field": "r", "type": "nominal", "legend": null, "scale": {"type": "ordinal",
                "domain": ["title", "stat", "arrow", "tinyL", "trc", "det", "ref", "div", "log", "auto", "tblL", "msg"],
                "range": [8.3, 7.2, 7, 5.5, 5.5, 5.5, 9, 9, 8, 9, 9.5, 6]}}
            }
          },
          {
            "transform": [{"filter": "datum.k === 'tx'"}, {"filter": {"field": "r", "oneOf": ["cf", "hdr", "hdrs", "refbig", "foot"]}}],
            "mark": {"type": "text", "align": "left", "baseline": "middle", "font": "Liberation Sans", "fontWeight": "bold"},
            "encoding": {
              "x": {"field": "x", "type": "quantitative", "scale": {"domain": [0, 640], "range": [0, 640]}, "axis": null},
              "y": {"field": "y", "type": "quantitative", "scale": {"domain": [0, 532], "range": [0, 532]}, "axis": null},
              "text": {"field": "s"},
              "color": {"field": "r", "type": "nominal", "legend": null, "scale": {"domain": ["cf", "hdr", "hdrs", "refbig", "foot"], "range": ["#000000", "#1a1a1a", "#2a2a2a", "#000000", "#000000"]}},
              "size": {"field": "r", "type": "nominal", "legend": null, "scale": {"type": "ordinal", "domain": ["cf", "hdr", "hdrs", "refbig", "foot"], "range": [12.5, 8.5, 7.3, 11.5, 11.4]}}
            }
          },
          {
            "transform": [{"filter": "datum.k === 'tx'"}, {"filter": {"field": "r", "oneOf": ["tiny", "keysub", "tblR"]}}],
            "mark": {"type": "text", "align": "right", "baseline": "middle", "font": "Liberation Sans"},
            "encoding": {
              "x": {"field": "x", "type": "quantitative", "scale": {"domain": [0, 640], "range": [0, 640]}, "axis": null},
              "y": {"field": "y", "type": "quantitative", "scale": {"domain": [0, 532], "range": [0, 532]}, "axis": null},
              "text": {"field": "s"},
              "color": {"field": "r", "type": "nominal", "legend": null, "scale": {"domain": ["tiny", "keysub", "tblR"], "range": ["#777777", "#222222", "#1a1a1a"]}},
              "size": {"field": "r", "type": "nominal", "legend": null, "scale": {"type": "ordinal", "domain": ["tiny", "keysub", "tblR"], "range": [5.5, 9, 9.5]}}
            }
          },
          {
            "transform": [{"filter": "datum.k === 'tx'"}, {"filter": {"field": "r", "oneOf": ["keyT", "mkr", "footR"]}}],
            "mark": {"type": "text", "align": "right", "baseline": "middle", "font": "Liberation Sans", "fontWeight": "bold"},
            "encoding": {
              "x": {"field": "x", "type": "quantitative", "scale": {"domain": [0, 640], "range": [0, 640]}, "axis": null},
              "y": {"field": "y", "type": "quantitative", "scale": {"domain": [0, 532], "range": [0, 532]}, "axis": null},
              "text": {"field": "s"},
              "color": {"field": "r", "type": "nominal", "legend": null, "scale": {"domain": ["keyT", "mkr", "footR"], "range": ["#1a1a1a", "#1ccc1c", "#000000"]}},
              "size": {"field": "r", "type": "nominal", "legend": null, "scale": {"type": "ordinal", "domain": ["keyT", "mkr", "footR"], "range": [11, 13.5, 11.2]}}
            }
          },
          {
            "transform": [{"filter": "datum.k === 'tx'"}, {"filter": {"field": "r", "oneOf": ["tblh", "tick", "scrarrow"]}}],
            "mark": {"type": "text", "align": "center", "baseline": "middle", "font": "Liberation Sans"},
            "encoding": {
              "x": {"field": "x", "type": "quantitative", "scale": {"domain": [0, 640], "range": [0, 640]}, "axis": null},
              "y": {"field": "y", "type": "quantitative", "scale": {"domain": [0, 532], "range": [0, 532]}, "axis": null},
              "text": {"field": "s"},
              "color": {"field": "r", "type": "nominal", "legend": null, "scale": {"domain": ["tblh", "tick", "scrarrow"], "range": ["#d8d8d8", "#f2c200", "#6a7aa8"]}},
              "size": {"field": "r", "type": "nominal", "legend": null, "scale": {"type": "ordinal", "domain": ["tblh", "tick", "scrarrow"], "range": [5.5, 9, 6]}}
            }
          },
          {
            "transform": [{"filter": "datum.k === 'tx'"}, {"filter": {"field": "r", "oneOf": ["keyc", "cap"]}}],
            "mark": {"type": "text", "align": "center", "baseline": "middle", "font": "Liberation Sans", "fontWeight": "bold"},
            "encoding": {
              "x": {"field": "x", "type": "quantitative", "scale": {"domain": [0, 640], "range": [0, 640]}, "axis": null},
              "y": {"field": "y", "type": "quantitative", "scale": {"domain": [0, 532], "range": [0, 532]}, "axis": null},
              "text": {"field": "s"},
              "color": {"field": "r", "type": "nominal", "legend": null, "scale": {"domain": ["keyc", "cap"], "range": ["#1a1a1a", "#000000"]}},
              "size": {"field": "r", "type": "nominal", "legend": null, "scale": {"type": "ordinal", "domain": ["keyc", "cap"], "range": [10, 28.5]}}
            }
          }
        ],
        "resolve": {"scale": {"color": "independent", "size": "independent"}}
      },
      {
        "layer": [
          {
            "transform": [{"filter": "datum.k === 'gx'"}],
            "mark": {"type": "rule", "stroke": "#b4b4b4", "strokeWidth": 1},
            "encoding": {
              "x": {"field": "t", "type": "quantitative", "scale": {"domain": [0, 10], "range": [48.3, 529.5], "nice": false, "zero": false}, "axis": null},
              "y": {"datum": -68.85, "type": "quantitative", "scale": {"domain": [-68.85, 31.15], "range": [310, 139.3], "nice": false, "zero": false}, "axis": null},
              "y2": {"datum": 31.15}
            }
          },
          {
            "transform": [{"filter": "datum.k === 'gy'"}],
            "mark": {"type": "rule", "stroke": "#b4b4b4", "strokeWidth": 1},
            "encoding": {
              "x": {"datum": 0, "type": "quantitative", "scale": {"domain": [0, 10], "range": [48.3, 529.5], "nice": false, "zero": false}, "axis": null},
              "x2": {"datum": 10},
              "y": {"field": "v", "type": "quantitative", "scale": {"domain": [-68.85, 31.15], "range": [310, 139.3], "nice": false, "zero": false}, "axis": null}
            }
          },
          {
            "transform": [{"filter": "datum.k === 'gy' && datum.lab !== ''"}],
            "mark": {"type": "text", "align": "right", "baseline": "middle", "dx": -4, "fontSize": 7, "color": "#a8a8a8", "font": "Liberation Sans"},
            "encoding": {
              "x": {"datum": 0, "type": "quantitative", "scale": {"domain": [0, 10], "range": [48.3, 529.5], "nice": false, "zero": false}, "axis": null},
              "y": {"field": "v", "type": "quantitative", "scale": {"domain": [-68.85, 31.15], "range": [310, 139.3], "nice": false, "zero": false}, "axis": null},
              "text": {"field": "lab"}
            }
          },
          {
            "transform": [{"filter": "datum.k === 'tr'"}],
            "mark": {"type": "line", "stroke": "#f0a51c", "strokeWidth": 1.1, "interpolate": "linear"},
            "encoding": {
              "x": {"field": "t", "type": "quantitative", "scale": {"domain": [0, 10], "range": [48.3, 529.5], "nice": false, "zero": false}, "axis": null},
              "y": {"field": "d", "type": "quantitative", "scale": {"domain": [-68.85, 31.15], "range": [310, 139.3], "nice": false, "zero": false}, "axis": null}
            }
          },
          {
            "transform": [{"filter": "datum.k === 'mk' && datum.mt === 'ref'"}],
            "mark": {"type": "point", "shape": "M-0.75,-1L0.45,1M0.45,-1L-0.75,1M-0.45,-1L0.75,1M0.75,-1L-0.45,1", "size": 196, "filled": false, "stroke": "#8a8a8a", "strokeWidth": 1, "opacity": 1},
            "encoding": {
              "x": {"field": "t", "type": "quantitative", "scale": {"domain": [0, 10], "range": [48.3, 529.5], "nice": false, "zero": false}, "axis": null},
              "y": {"field": "d", "type": "quantitative", "scale": {"domain": [-68.85, 31.15], "range": [310, 139.3], "nice": false, "zero": false}, "axis": null}
            }
          },
          {
            "transform": [{"filter": "datum.k === 'mk' && datum.mt === 'dia'"}],
            "mark": {"type": "point", "shape": "M0,-2L0.55,-1L0,0L-0.55,-1Z", "size": 240, "filled": true, "fill": "#ffffff", "stroke": "#6a6a6a", "strokeWidth": 1.2, "opacity": 1},
            "encoding": {
              "x": {"field": "t", "type": "quantitative", "scale": {"domain": [0, 10], "range": [48.3, 529.5], "nice": false, "zero": false}, "axis": null},
              "y": {"field": "d", "type": "quantitative", "scale": {"domain": [-68.85, 31.15], "range": [310, 139.3], "nice": false, "zero": false}, "axis": null}
            }
          },
          {
            "transform": [{"filter": "datum.k === 'mk' && datum.mt === 'act'"}],
            "mark": {"type": "point", "shape": "M0,-2L0.55,-1L0,0L-0.55,-1Z", "size": 240, "filled": true, "fill": "#1fcf1f", "stroke": "#0f8f0f", "strokeWidth": 1, "opacity": 1},
            "encoding": {
              "x": {"field": "t", "type": "quantitative", "scale": {"domain": [0, 10], "range": [48.3, 529.5], "nice": false, "zero": false}, "axis": null},
              "y": {"field": "d", "type": "quantitative", "scale": {"domain": [-68.85, 31.15], "range": [310, 139.3], "nice": false, "zero": false}, "axis": null}
            }
          },
          {
            "transform": [{"filter": "datum.k === 'mk' && datum.mt !== 'ref'"}],
            "mark": {"type": "text", "align": "left", "baseline": "middle", "dx": 6, "dy": -15, "fontSize": 9.5, "color": "#eea21a", "font": "Liberation Sans"},
            "encoding": {
              "x": {"field": "t", "type": "quantitative", "scale": {"domain": [0, 10], "range": [48.3, 529.5], "nice": false, "zero": false}, "axis": null},
              "y": {"field": "d", "type": "quantitative", "scale": {"domain": [-68.85, 31.15], "range": [310, 139.3], "nice": false, "zero": false}, "axis": null},
              "text": {"field": "lab"}
            }
          },
          {
            "transform": [{"filter": "datum.k === 'mk' && datum.mt === 'ref'"}],
            "mark": {"type": "text", "align": "left", "baseline": "middle", "dx": 7, "dy": 4, "fontSize": 9.5, "color": "#eea21a", "font": "Liberation Sans"},
            "encoding": {
              "x": {"field": "t", "type": "quantitative", "scale": {"domain": [0, 10], "range": [48.3, 529.5], "nice": false, "zero": false}, "axis": null},
              "y": {"field": "d", "type": "quantitative", "scale": {"domain": [-68.85, 31.15], "range": [310, 139.3], "nice": false, "zero": false}, "axis": null},
              "text": {"field": "lab"}
            }
          }
        ]
      }
    ],
    "resolve": {"scale": {"x": "independent", "y": "independent"}}
  },
  "config": {
    "view": {"stroke": null},
    "text": {"font": "Liberation Sans"}
  }
}
